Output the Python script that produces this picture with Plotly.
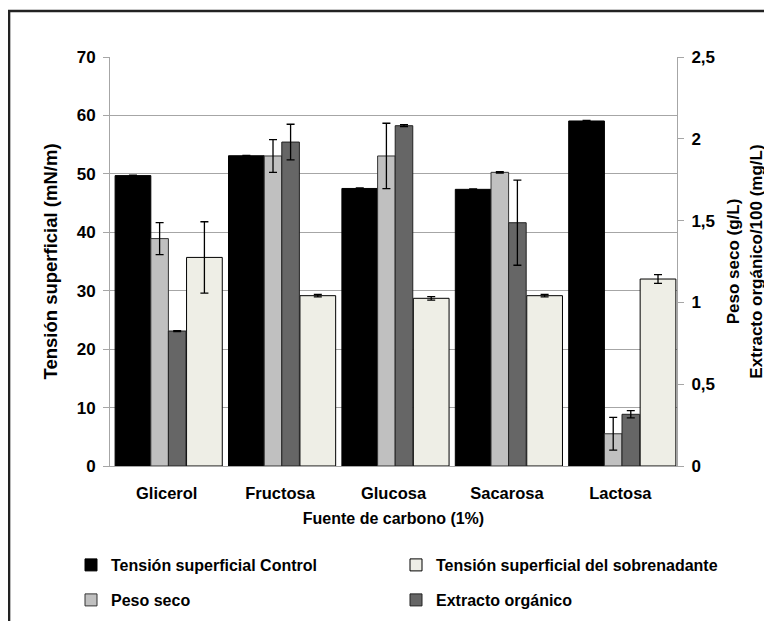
import plotly.graph_objects as go

categorias = ["Glicerol", "Fructosa", "Glucosa", "Sacarosa", "Lactosa"]
tension_control = [49.7, 53.1, 47.5, 47.35, 59.05]
tension_control_err = [0.08, 0.08, 0.08, 0.08, 0.08]
tension_sobrenadante = [35.7, 29.15, 28.7, 29.15, 32.0]
tension_sobrenadante_err = [6.1, 0.2, 0.3, 0.2, 0.75]
peso_seco = [1.39, 1.895, 1.895, 1.795, 0.197]
peso_seco_err = [0.098, 0.1, 0.2, 0.004, 0.1]
extracto = [0.825, 1.98, 2.08, 1.487, 0.316]
extracto_err = [0.003, 0.109, 0.006, 0.26, 0.022]

FN = "Liberation Sans Narrow, Arial Narrow, Liberation Sans, Arial"
FW = "Liberation Sans, Arial"
GRAY = "#a6a6a6"
W, H = 772, 621


def err(a):
    return dict(type="data", array=a, color="black", thickness=1.3, width=4)


fig = go.Figure()
fig.add_trace(go.Bar(
    x=categorias, y=tension_control, name="Tensión superficial Control",
    offset=-0.455, width=0.315, marker=dict(color="#000000", line=dict(color="black", width=1)),
    error_y=err(tension_control_err), yaxis="y", legend="legend"))
fig.add_trace(go.Bar(
    x=categorias, y=tension_sobrenadante, name="Tensión superficial del sobrenadante",
    offset=0.175, width=0.315, marker=dict(color="#eeeee6", line=dict(color="black", width=1)),
    error_y=err(tension_sobrenadante_err), yaxis="y", legend="legend2"))
fig.add_trace(go.Bar(
    x=categorias, y=peso_seco, name="Peso seco",
    offset=-0.14, width=0.155, marker=dict(color="#c0c0c0", line=dict(color="#333333", width=1)),
    error_y=err(peso_seco_err), yaxis="y2", legend="legend3"))
fig.add_trace(go.Bar(
    x=categorias, y=extracto, name="Extracto orgánico",
    offset=0.015, width=0.155, marker=dict(color="#666666", line=dict(color="#222222", width=1)),
    error_y=err(extracto_err), yaxis="y2", legend="legend4"))


def leg(xpx, ypx):
    return dict(orientation="h", xref="container", yref="container",
                x=xpx / W, y=1 - ypx / H, xanchor="left", yanchor="middle",
                font=dict(family=FN, size=16, color="black", weight=700),
                bgcolor="rgba(0,0,0,0)", itemwidth=30)


fig.update_layout(
    width=W, height=H,
    margin=dict(l=102, r=103, t=49, b=163, autoexpand=False),
    paper_bgcolor="white", plot_bgcolor="white",
    barmode="overlay",
    separators=",.",
    showlegend=True,
    font=dict(family=FN, color="black"),
    xaxis=dict(
        type="category", showline=True, linecolor=GRAY, linewidth=1,
        ticks="", showgrid=False, automargin=False, ticklabelstandoff=12,
        tickfont=dict(family=FN, size=16.5, color="black", weight=700),
        title=dict(text="Fuente de carbono (1%)", standoff=12,
                   font=dict(family=FN, size=16, color="black", weight=700)),
    ),
    yaxis=dict(
        range=[0, 70], dtick=10, showgrid=True, gridcolor=GRAY, gridwidth=1,
        showline=True, linecolor=GRAY, linewidth=1, automargin=False,
        ticks="outside", ticklen=6, tickcolor=GRAY, zeroline=False, ticklabelstandoff=4,
        tickfont=dict(family=FN, size=17, color="black", weight=700),
        title=dict(text="Tensión superficial (mN/m)", standoff=14,
                   font=dict(family=FW, size=18.5, color="black", weight=700)),
    ),
    yaxis2=dict(
        range=[0, 2.5], dtick=0.5, overlaying="y", side="right",
        showgrid=False, showline=True, linecolor=GRAY, linewidth=1, automargin=False,
        ticks="outside", ticklen=6, tickcolor=GRAY, zeroline=False, ticklabelstandoff=4,
        tickfont=dict(family=FN, size=17, color="black", weight=700),
        title=dict(text="Peso seco (g/L)<br>Extracto orgánico/100 (mg/L)", standoff=13,
                   font=dict(family=FW, size=17, color="black", weight=700)),
    ),
    legend=leg(63, 557),
    legend2=leg(388, 557),
    legend3=leg(63, 592),
    legend4=leg(388, 592),
)

fig.add_shape(type="rect", xref="paper", yref="paper",
              x0=-0.178, x1=1.164, y0=-0.42, y1=1.1125,
              line=dict(color="#222222", width=2.5), layer="below")

fig.write_html("out.html")
